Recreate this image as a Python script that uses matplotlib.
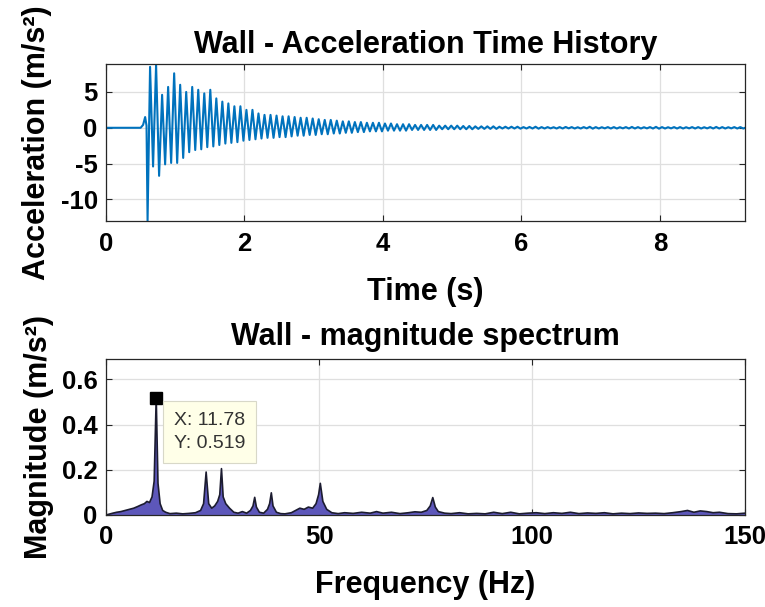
import numpy as np
import matplotlib
matplotlib.use("Agg")
import matplotlib.pyplot as plt

plt.rcParams['font.family'] = ['Liberation Sans', 'DejaVu Sans']
plt.rcParams['font.weight'] = 'bold'
plt.rcParams['axes.unicode_minus'] = False

# ---------------- time history ----------------
# quiet start, small bump, big negative spike
pre_t = [0.0, 0.50, 0.535, 0.565, 0.585, 0.600]
pre_v = [0.0, 0.0, 0.4, 1.5, 0.3, -13.0]

# oscillation: one positive and one negative extreme per cycle
cycle_start = 0.636      # s, first positive peak
cycle_period = 0.087     # s, peak spacing (~11.5 Hz)
upper_peaks = [
    8.5, 8.8, 4.6, 5.7, 7.6, 6.0, 5.0, 5.7, 5.3, 4.8,
    5.3, 4.1, 3.65, 3.4, 3.0, 3.0, 2.5, 2.5, 2.0, 1.8,
    1.8, 1.7, 1.6, 1.6, 1.5, 1.4, 1.4, 1.3, 1.2, 1.1,
    1.1, 1.0, 0.9, 0.9, 0.8, 0.8, 0.7, 0.7, 0.7, 0.6,
    0.6, 0.5, 0.5, 0.5, 0.4, 0.4, 0.4, 0.4, 0.3, 0.3,
    0.3, 0.3, 0.25, 0.25, 0.2, 0.2, 0.2, 0.2, 0.15, 0.15,
    0.15, 0.15, 0.1, 0.12, 0.15, 0.1, 0.1, 0.08, 0.1, 0.12,
    0.1, 0.08, 0.1, 0.14, 0.1, 0.08, 0.1, 0.1, 0.08, 0.1,
    0.12, 0.1, 0.08, 0.1, 0.13, 0.1, 0.08, 0.1, 0.1, 0.08,
    0.1, 0.1, 0.08, 0.1, 0.12, 0.1, 0.08, 0.1, 0.1, 0.08,
]
lower_troughs = [
    -5.4, -6.7, -5.1, -4.9, -4.9, -4.2, -3.4, -3.1, -3.0, -2.7,
    -2.6, -2.4, -2.2, -2.1, -2.0, -1.8, -1.7, -1.6, -1.5, -1.4,
    -1.4, -1.3, -1.3, -1.2, -1.1, -1.1, -1.0, -1.0, -0.9, -0.9,
    -0.8, -0.8, -0.7, -0.7, -0.6, -0.6, -0.5, -0.5, -0.5, -0.4,
    -0.4, -0.4, -0.4, -0.3, -0.3, -0.3, -0.3, -0.3, -0.2, -0.2,
    -0.2, -0.2, -0.2, -0.2, -0.15, -0.15, -0.15, -0.15, -0.1, -0.1,
    -0.1, -0.12, -0.1, -0.1, -0.12, -0.1, -0.08, -0.1, -0.1, -0.08,
    -0.1, -0.1, -0.08, -0.12, -0.1, -0.08, -0.1, -0.1, -0.08, -0.1,
    -0.1, -0.1, -0.08, -0.1, -0.12, -0.1, -0.08, -0.1, -0.1, -0.08,
    -0.1, -0.1, -0.08, -0.1, -0.1, -0.1, -0.08, -0.1, -0.1, -0.08,
]

time_xticks = [0, 2, 4, 6, 8]
acc_yticks = [-10, -5, 0, 5]

# ---------------- magnitude spectrum ----------------
freq_hz = [
    0, 0.8, 1.6, 2.5, 3.5, 4.5, 5.5, 6.5, 7.5, 8.3,
    9.0, 9.6, 10.2, 10.8, 11.3, 11.78, 12.2, 12.7, 13.3, 14.0,
    15.0, 16.5, 18.0, 19.5, 21.0, 22.2, 22.9, 23.5, 24.1, 24.8,
    25.5, 26.2, 26.7, 27.1, 27.5, 28.1, 29.0, 30.0, 31.0, 32.0,
    33.0, 33.9, 34.5, 34.9, 35.3, 36.0, 37.0, 37.9, 38.4, 38.8,
    39.2, 40.0, 41.0, 42.0, 43.5, 44.5, 45.5, 46.5, 47.5, 48.5,
    49.3, 49.9, 50.3, 50.9, 51.8, 53.0, 54.5, 56, 58, 60,
    62, 63.5, 65, 67, 69, 71, 72.5, 74, 75.3, 76.1,
    76.7, 77.3, 78.0, 79.5, 81, 83, 85, 87, 89, 91,
    93, 95, 97, 99, 101, 103, 105, 107, 109, 111,
    113, 115, 117, 119, 121, 123, 125, 127, 129, 131,
    133, 135, 136.5, 138, 139.5, 141, 142.5, 144, 146, 148,
    150,
]
magnitude = [
    0.0, 0.004, 0.008, 0.012, 0.015, 0.02, 0.025, 0.03, 0.038, 0.045,
    0.05, 0.06, 0.055, 0.08, 0.15, 0.519, 0.14, 0.05, 0.02, 0.012,
    0.006, 0.008, 0.005, 0.007, 0.01, 0.02, 0.05, 0.19, 0.05, 0.03,
    0.04, 0.06, 0.09, 0.205, 0.08, 0.05, 0.03, 0.012, 0.008, 0.015,
    0.008, 0.02, 0.04, 0.078, 0.035, 0.012, 0.008, 0.025, 0.05, 0.098,
    0.04, 0.012, 0.006, 0.005, 0.01, 0.02, 0.03, 0.025, 0.035, 0.03,
    0.05, 0.09, 0.14, 0.06, 0.025, 0.01, 0.006, 0.01, 0.007, 0.012,
    0.008, 0.015, 0.008, 0.012, 0.006, 0.01, 0.014, 0.012, 0.02, 0.04,
    0.077, 0.035, 0.015, 0.008, 0.006, 0.01, 0.005, 0.007, 0.005, 0.012,
    0.006, 0.012, 0.005, 0.008, 0.01, 0.006, 0.01, 0.007, 0.012, 0.006,
    0.009, 0.007, 0.01, 0.005, 0.008, 0.006, 0.009, 0.007, 0.008, 0.006,
    0.01, 0.015, 0.02, 0.012, 0.018, 0.015, 0.01, 0.012, 0.006, 0.005,
    0.008,
]
freq_xticks = [0, 50, 100, 150]
mag_yticks = [0, 0.2, 0.4, 0.6]
tip_x, tip_y = 11.78, 0.519

# ---------------- build time series from extremes ----------------
n = min(len(upper_peaks), len(lower_troughs))
t_up = cycle_start + cycle_period * np.arange(n)
t_lo = t_up + cycle_period / 2
osc_t = np.empty(2 * n)
osc_v = np.empty(2 * n)
osc_t[0::2], osc_t[1::2] = t_up, t_lo
osc_v[0::2], osc_v[1::2] = upper_peaks[:n], lower_troughs[:n]
time_s = np.concatenate([pre_t, osc_t])
accel = np.concatenate([pre_v, osc_v])

# ---------------- figure ----------------
fig = plt.figure(figsize=(7.65, 6.07), dpi=100)
ax1 = fig.add_axes([0.1386, 0.6359, 0.8353, 0.2587])
ax2 = fig.add_axes([0.1386, 0.1516, 0.8353, 0.2570])

TICK_FS = 18.5
LABEL_FS = 22
TITLE_FS = 22
AX_COL = '#262626'
GRID_COL = '#DFDFDF'

def style(ax, xpad):
    ax.grid(True, color=GRID_COL, linewidth=0.9)
    ax.set_axisbelow(True)
    ax.tick_params(direction='in', top=True, right=True, length=4,
                   width=0.8, color=AX_COL, labelsize=TICK_FS)
    ax.tick_params(axis='x', pad=xpad)
    ax.tick_params(axis='y', pad=6)
    for lab in ax.get_xticklabels() + ax.get_yticklabels():
        lab.set_fontweight('bold')
    for s in ax.spines.values():
        s.set_color(AX_COL)
        s.set_linewidth(0.9)

ax1.plot(time_s, accel, color='#0072BD', linewidth=1.5)
ax1.set_xlim(0, 9.23)
ax1.set_ylim(-13.0, 8.9)
ax1.set_xticks(time_xticks)
ax1.set_yticks(acc_yticks)
style(ax1, 8)
ax1.set_title('Wall - Acceleration Time History', fontsize=TITLE_FS,
              fontweight='bold', pad=8)
ax1.set_xlabel('Time (s)', fontsize=LABEL_FS, fontweight='bold', labelpad=15)
ax1.set_ylabel('Acceleration (m/s²)', fontsize=LABEL_FS, fontweight='bold',
               labelpad=6)

ax2.fill_between(freq_hz, magnitude, 0, facecolor='#5D57BA',
                 edgecolor='none')
ax2.plot(freq_hz, magnitude, color='#1C1C30', linewidth=1.2)
ax2.set_xlim(0, 150)
ax2.set_ylim(0, 0.69)
ax2.set_xticks(freq_xticks)
ax2.set_yticks(mag_yticks)
ax2.set_yticklabels(['0', '0.2', '0.4', '0.6'])
style(ax2, 7)
ax2.set_title('Wall - magnitude spectrum', fontsize=TITLE_FS,
              fontweight='bold', pad=10)
ax2.set_xlabel('Frequency (Hz)', fontsize=LABEL_FS, fontweight='bold',
               labelpad=15)
ax2.set_ylabel('Magnitude (m/s²)', fontsize=LABEL_FS, fontweight='bold',
               labelpad=6)

ax2.plot([tip_x], [tip_y], marker='s', color='k', markersize=9, zorder=5)
ax2.text(16.0, 0.455, f'X: {tip_x:.2f}\nY: {tip_y:.3f}', fontsize=14,
         fontweight='normal', color='#333333', va='top', ha='left',
         linespacing=1.45, zorder=6,
         bbox=dict(boxstyle='square,pad=0.55', facecolor='#FFFFE8',
                   edgecolor='#D8D8C8', linewidth=0.8))

fig.savefig('out.png', dpi=100)
